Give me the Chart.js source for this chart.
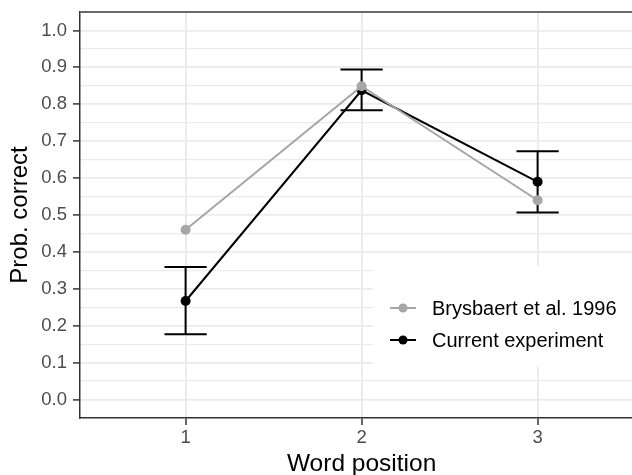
<!DOCTYPE html>
<html>
<head>
<meta charset="utf-8">
<script src="https://cdn.jsdelivr.net/npm/chart.js@4"></script>
<style>
  html, body { margin: 0; padding: 0; background: #fff; overflow: hidden; }
  #wrap { position: relative; width: 660px; height: 475px; }
</style>
</head>
<body>
<div id="wrap"><canvas id="chart"></canvas></div>
<script>
"use strict";

// word positions (x) and the two series
const positions = [1, 2, 3];
const brysbaert = [0.46, 0.849, 0.54];
const current = [0.267, 0.838, 0.590];
const currentLower = [0.177, 0.784, 0.507];
const currentUpper = [0.359, 0.894, 0.673];

const seriesNames = ["Brysbaert et al. 1996", "Current experiment"];
const xTickLabels = ["1", "2", "3"];
const yMajor = [0, 0.1, 0.2, 0.3, 0.4, 0.5, 0.6, 0.7, 0.8, 0.9, 1.0];
const yMinor = [0.05, 0.15, 0.25, 0.35, 0.45, 0.55, 0.65, 0.75, 0.85, 0.95];

const GRAY = "#a6a6a6";
const BLACK = "#000000";
const FONT = "'Liberation Sans', Arial, Helvetica, sans-serif";

function isMajor(v) {
  return yMajor.some(m => Math.abs(m - v) < 1e-6);
}

const errorBars = {
  id: "errorBars",
  beforeDatasetsDraw(chart) {
    const {ctx, scales: {x, y}} = chart;
    const half = 0.12;
    ctx.save();
    ctx.strokeStyle = BLACK;
    ctx.lineWidth = 2;
    for (let i = 0; i < positions.length; i++) {
      const px = x.getPixelForValue(positions[i]);
      const yl = y.getPixelForValue(currentLower[i]);
      const yu = y.getPixelForValue(currentUpper[i]);
      const x0 = x.getPixelForValue(positions[i] - half);
      const x1 = x.getPixelForValue(positions[i] + half);
      ctx.beginPath();
      ctx.moveTo(px, yl); ctx.lineTo(px, yu);
      ctx.moveTo(x0, yl); ctx.lineTo(x1, yl);
      ctx.moveTo(x0, yu); ctx.lineTo(x1, yu);
      ctx.stroke();
    }
    ctx.restore();
  }
};

const panelExtras = {
  id: "panelExtras",
  afterDraw(chart) {
    const {ctx, chartArea: a} = chart;
    ctx.save();
    // top border of the panel
    ctx.strokeStyle = "#6a6a6a";
    ctx.lineWidth = 2;
    ctx.beginPath();
    ctx.moveTo(a.left, a.top);
    ctx.lineTo(a.right, a.top);
    ctx.lineTo(a.right, a.bottom);
    ctx.stroke();

    // legend inside the panel
    const boxX = 373, boxY = 266;
    ctx.fillStyle = "#ffffff";
    ctx.fillRect(boxX, boxY, a.right - boxX - 1, 101);
    const colors = [GRAY, BLACK];
    const rows = [308, 340];
    ctx.font = "20px " + FONT;
    ctx.textBaseline = "middle";
    for (let i = 0; i < seriesNames.length; i++) {
      ctx.strokeStyle = colors[i];
      ctx.fillStyle = colors[i];
      ctx.lineWidth = 2;
      ctx.beginPath();
      ctx.moveTo(390, rows[i]);
      ctx.lineTo(416, rows[i]);
      ctx.stroke();
      ctx.beginPath();
      ctx.arc(403, rows[i], 4.5, 0, Math.PI * 2);
      ctx.fill();
      ctx.fillStyle = "#000";
      ctx.fillText(seriesNames[i], 432, rows[i] + 1);
    }
    ctx.restore();
  }
};

const ctx = document.getElementById("chart").getContext("2d");
new Chart(ctx, {
  type: "line",
  data: {
    datasets: [
      {
        label: seriesNames[0],
        data: positions.map((p, i) => ({x: p, y: brysbaert[i]})),
        borderColor: GRAY,
        backgroundColor: GRAY,
        borderWidth: 2,
        pointRadius: 5,
        pointBorderWidth: 0,
        tension: 0,
      },
      {
        label: seriesNames[1],
        data: positions.map((p, i) => ({x: p, y: current[i]})),
        borderColor: BLACK,
        backgroundColor: BLACK,
        borderWidth: 2,
        pointRadius: 5,
        pointBorderWidth: 0,
        tension: 0,
      },
    ],
  },
  options: {
    responsive: true,
    maintainAspectRatio: false,
    animation: false,
    events: [],
    layout: {padding: {top: 12, right: 16.8, left: 0, bottom: 0}},
    plugins: {legend: {display: false}, tooltip: {enabled: false}},
    scales: {
      x: {
        type: "linear",
        min: 0.4,
        max: 3.6,
        afterBuildTicks: s => { s.ticks = positions.map(v => ({value: v})); },
        afterFit: s => { s.height = 57; s.paddingLeft = 0; s.paddingRight = 0; },
        ticks: {
          callback: (v) => xTickLabels[positions.indexOf(v)],
          color: "#4d4d4d",
          font: {family: FONT, size: 18.5},
          padding: 2,
          maxRotation: 0,
        },
        grid: {color: "#ebebeb", lineWidth: 2, tickLength: 7, tickColor: "#333333", tickWidth: 1.5},
        border: {display: true, color: "#333333", width: 1.5},
        title: {
          display: true,
          text: "Word position",
          color: "#000",
          font: {family: FONT, size: 24.5, lineHeight: 0.9},
          padding: {top: 0, bottom: 0},
        },
      },
      y: {
        type: "linear",
        min: -0.05,
        max: 1.05,
        afterBuildTicks: s => {
          s.ticks = yMajor.concat(yMinor).sort((a, b) => a - b).map(v => ({value: v}));
        },
        afterFit: s => { s.width = 80; s.paddingTop = 0; s.paddingBottom = 0; },
        ticks: {
          callback: (v) => isMajor(v) ? v.toFixed(1) : "",
          color: "#4d4d4d",
          font: {family: FONT, size: 18.5},
          padding: 6,
          autoSkip: false,
        },
        grid: {
          color: "#ebebeb",
          lineWidth: c => (c.tick && isMajor(c.tick.value)) ? 1.8 : 1.2,
          tickLength: 7,
          tickColor: c => (c.tick && isMajor(c.tick.value)) ? "#333333" : "rgba(0,0,0,0)",
          tickWidth: 1.5,
        },
        border: {display: true, color: "#333333", width: 1.5},
        title: {
          display: true,
          text: "Prob. correct",
          color: "#000",
          font: {family: FONT, size: 24, lineHeight: 1},
          padding: {top: 8.5, bottom: 0},
        },
      },
    },
  },
  plugins: [errorBars, panelExtras],
});
</script>
</body>
</html>
